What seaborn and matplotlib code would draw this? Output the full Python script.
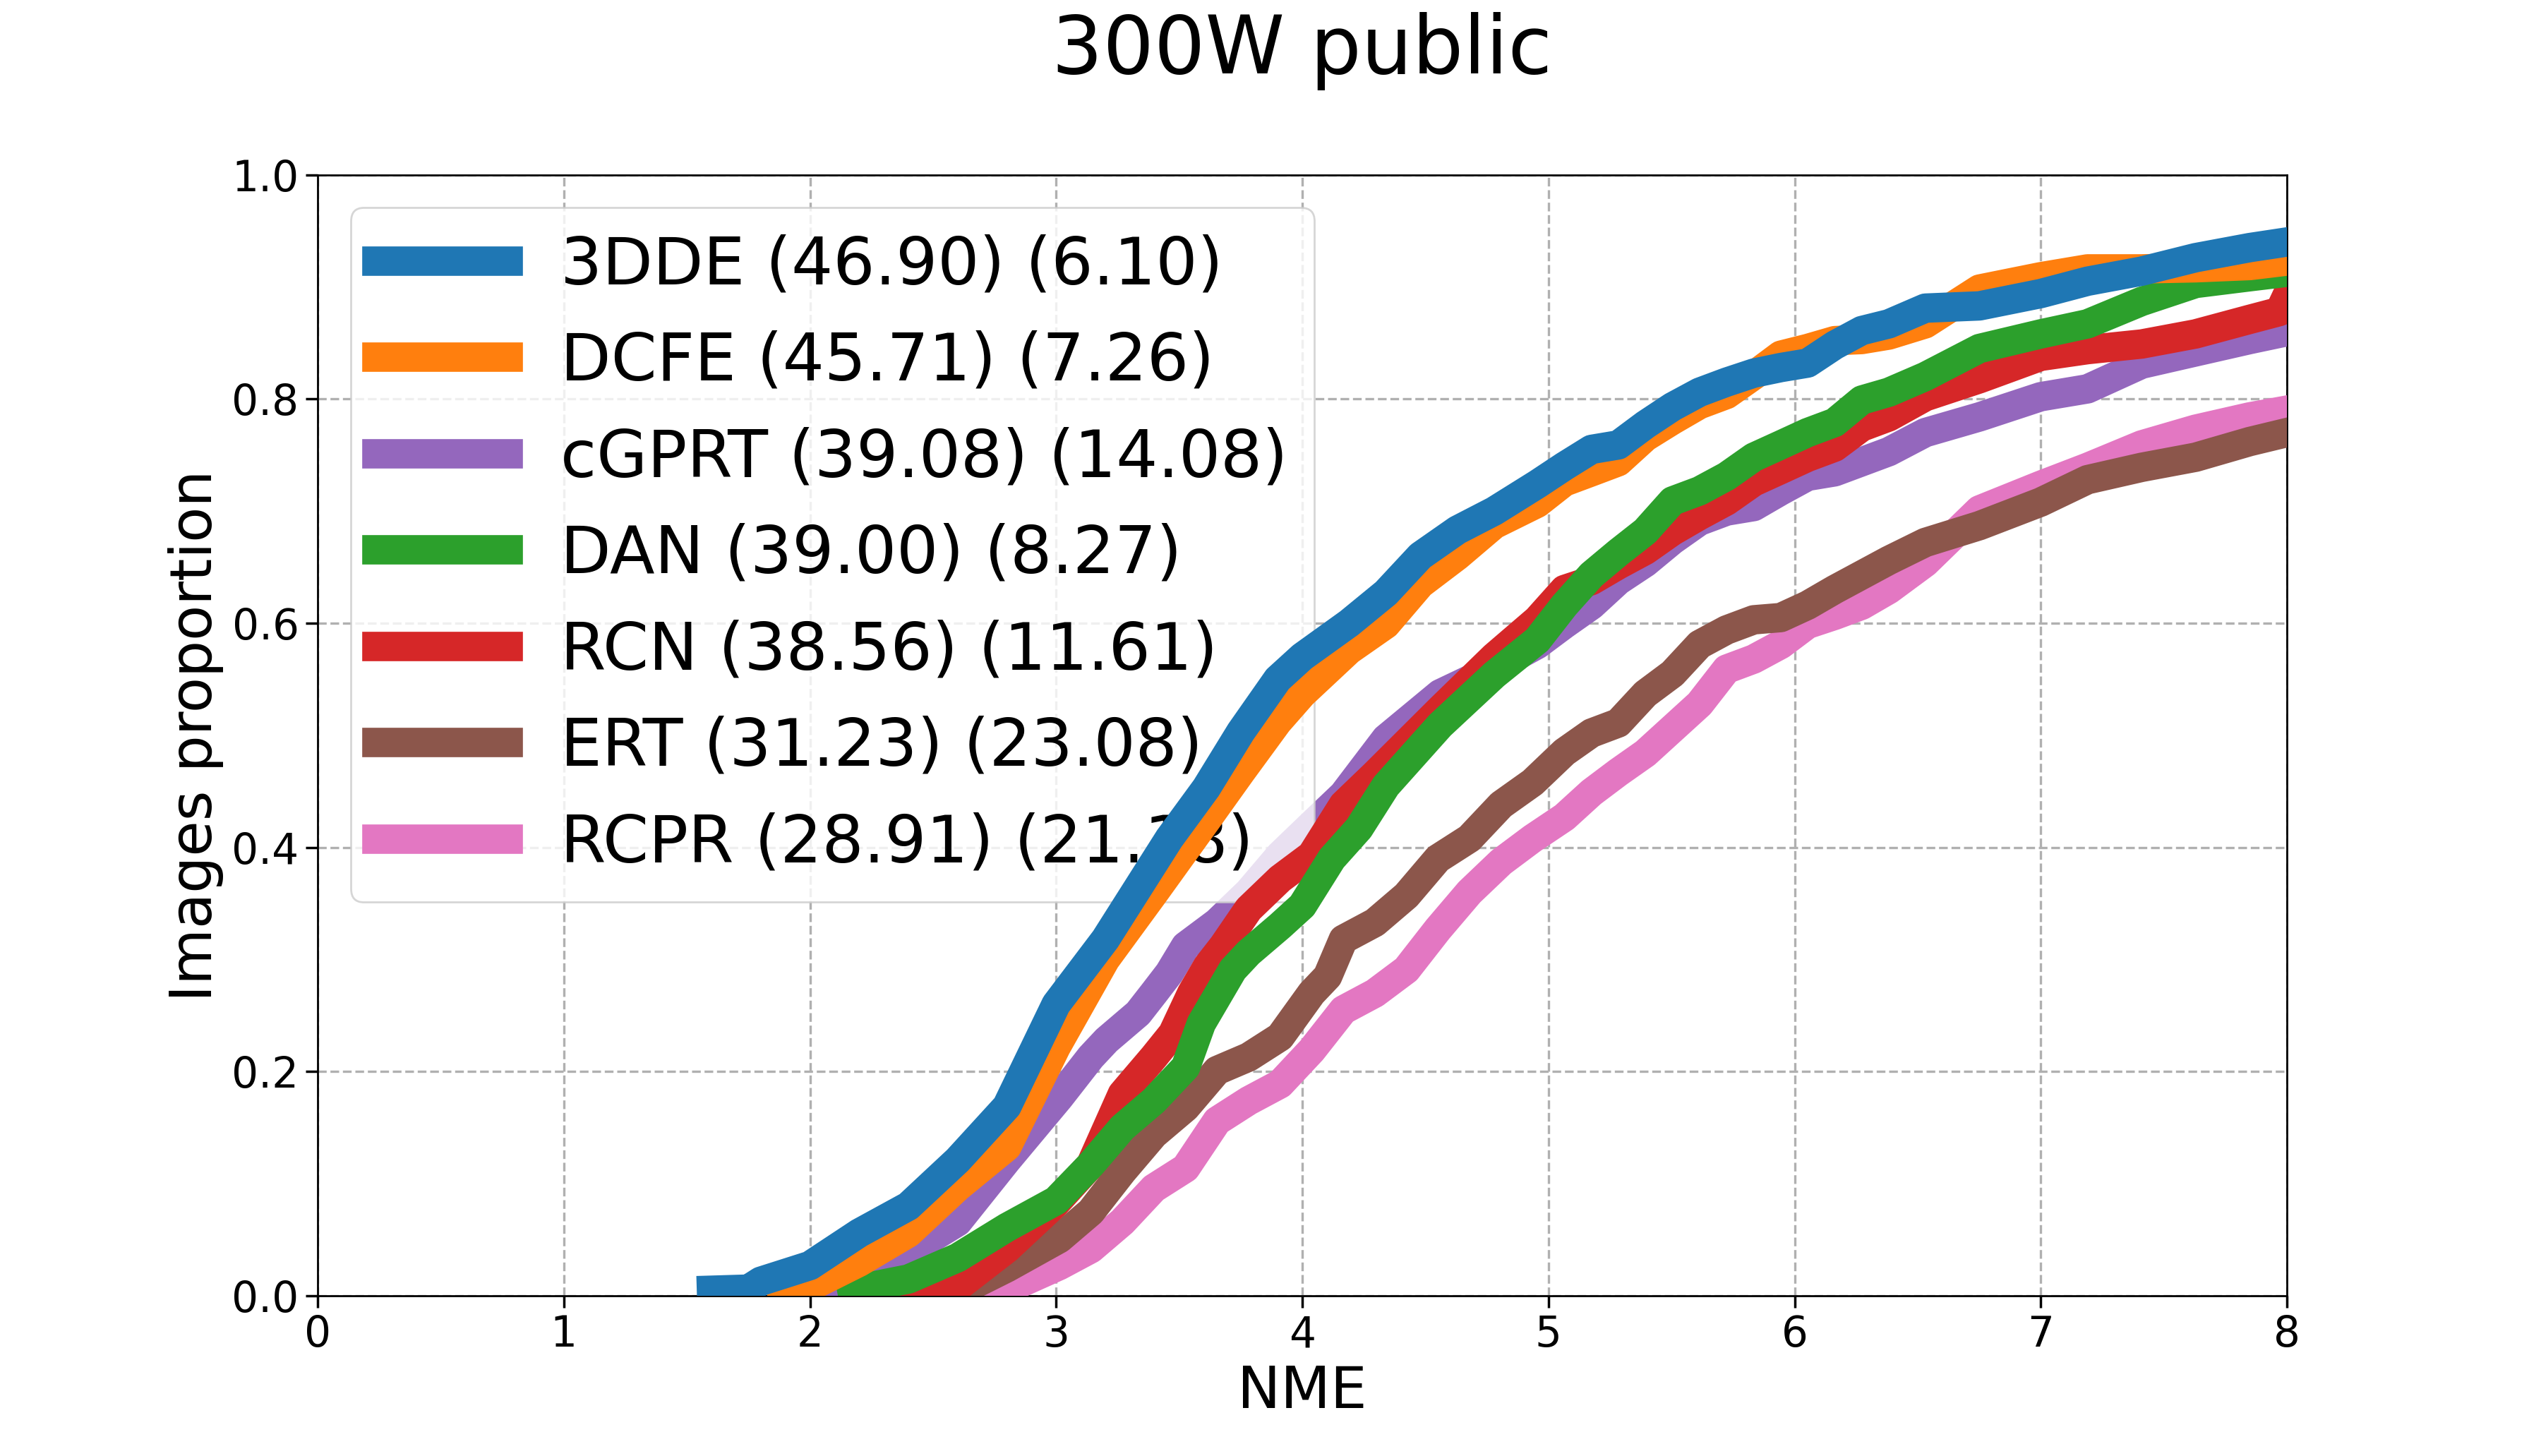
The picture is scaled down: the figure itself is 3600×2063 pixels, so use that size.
# CED curves, 300W public
import pandas as pd
import matplotlib
import matplotlib.pyplot as plt
import seaborn as sns

sns.set_theme(style='ticks', rc={'lines.solid_capstyle': 'projecting',
                                 'text.color': 'black', 'axes.labelcolor': 'black',
                                 'xtick.color': 'black', 'ytick.color': 'black'})
matplotlib.rcParams['font.family'] = ['DejaVu Sans']

# ---- data ----
nme_3dde = [1.60, 1.75, 1.8, 2.0, 2.2, 2.4, 2.6, 2.8, 3.0, 3.2, 3.46, 3.61, 3.75, 3.9, 4.0,
            4.19, 4.34, 4.48, 4.63, 4.78, 4.955, 5.065, 5.175, 5.284, 5.394, 5.504, 5.614,
            5.724, 5.834, 5.944, 6.053, 6.163, 6.273, 6.383, 6.531, 6.751, 7.0, 7.19, 7.41,
            7.629, 7.849, 8.0]
prop_3dde = [0.005, 0.006, 0.013, 0.027, 0.056, 0.08, 0.121, 0.169, 0.26, 0.318, 0.408, 0.453,
             0.503, 0.55, 0.57, 0.60, 0.627, 0.66, 0.683, 0.70, 0.724, 0.74, 0.755, 0.759, 0.777,
             0.793, 0.806, 0.815, 0.823, 0.828, 0.832, 0.848, 0.861, 0.867, 0.881, 0.883, 0.894,
             0.905, 0.914, 0.926, 0.935, 0.94]

nme_dcfe = [1.89, 2.0, 2.2, 2.4, 2.6, 2.8, 3.0, 3.2, 3.4, 3.61, 3.75, 3.9, 4.0, 4.19, 4.34, 4.48,
            4.63, 4.78, 4.955, 5.065, 5.175, 5.284, 5.394, 5.504, 5.614, 5.724, 5.834, 5.944,
            6.053, 6.163, 6.273, 6.383, 6.531, 6.751, 7.0, 7.19, 7.41, 7.629, 7.849, 8.0]
prop_dcfe = [0.0, 0.008, 0.03, 0.056, 0.097, 0.133, 0.222, 0.30, 0.36, 0.424, 0.467, 0.512, 0.537,
             0.576, 0.599, 0.635, 0.66, 0.688, 0.707, 0.726, 0.735, 0.744, 0.766, 0.781, 0.795,
             0.804, 0.821, 0.839, 0.845, 0.852, 0.853, 0.857, 0.867, 0.898, 0.909, 0.916, 0.916,
             0.917, 0.919, 0.923]

nme_cgprt = [2.02, 2.2, 2.4, 2.6, 2.8, 3.013, 3.141, 3.205, 3.333, 3.397, 3.46, 3.526, 3.654,
             3.782, 3.91, 4.038, 4.167, 4.34, 4.56, 4.78, 4.955, 5.065, 5.175, 5.284, 5.394,
             5.504, 5.614, 5.724, 5.834, 5.944, 6.053, 6.163, 6.273, 6.383, 6.531, 6.751, 7.0,
             7.19, 7.41, 7.629, 7.849, 8.0]
prop_cgprt = [0.0, 0.013, 0.039, 0.066, 0.121, 0.177, 0.213, 0.228, 0.252, 0.27, 0.288, 0.312,
              0.333, 0.36, 0.393, 0.42, 0.447, 0.497, 0.537, 0.56, 0.581, 0.599, 0.616, 0.638,
              0.654, 0.674, 0.691, 0.70, 0.704, 0.718, 0.731, 0.735, 0.744, 0.753, 0.77, 0.784,
              0.802, 0.809, 0.831, 0.842, 0.853, 0.86]

nme_dan = [2.17, 2.4, 2.6, 2.8, 3.0, 3.141, 3.269, 3.397, 3.526, 3.59, 3.654, 3.718, 3.782, 3.91,
           4.0, 4.12, 4.23, 4.34, 4.56, 4.78, 4.955, 5.065, 5.175, 5.284, 5.394, 5.504, 5.614,
           5.724, 5.834, 5.944, 6.053, 6.163, 6.273, 6.383, 6.531, 6.751, 7.0, 7.19, 7.41, 7.629,
           7.849, 8.0]
prop_dan = [0.005, 0.015, 0.034, 0.061, 0.085, 0.117, 0.150, 0.174, 0.204, 0.243, 0.267, 0.291,
            0.306, 0.33, 0.348, 0.39, 0.417, 0.455, 0.509, 0.554, 0.585, 0.616, 0.643, 0.663,
            0.682, 0.709, 0.718, 0.731, 0.748, 0.759, 0.77, 0.779, 0.799, 0.806, 0.82, 0.845,
            0.858, 0.867, 0.887, 0.903, 0.909, 0.913]

nme_rcn = [2.37, 2.6, 2.8, 3.0, 3.141, 3.269, 3.397, 3.474, 3.551, 3.615, 3.679, 3.782, 3.91,
           4.038, 4.167, 4.295, 4.56, 4.78, 4.955, 5.065, 5.175, 5.284, 5.394, 5.504, 5.614,
           5.724, 5.834, 5.944, 6.053, 6.163, 6.273, 6.383, 6.531, 6.751, 7.0, 7.19, 7.41, 7.629,
           7.849, 7.97, 8.0]
prop_rcn = [0.0, 0.008, 0.042, 0.083, 0.117, 0.18, 0.213, 0.234, 0.27, 0.294, 0.312, 0.345, 0.372,
            0.393, 0.438, 0.465, 0.523, 0.57, 0.603, 0.63, 0.638, 0.652, 0.665, 0.682, 0.696,
            0.709, 0.726, 0.737, 0.748, 0.757, 0.775, 0.784, 0.802, 0.818, 0.838, 0.844, 0.849,
            0.858, 0.871, 0.878, 0.892]

nme_ert = [2.5, 2.6, 2.8, 3.013, 3.141, 3.269, 3.397, 3.526, 3.654, 3.782, 3.91, 4.038, 4.103,
           4.167, 4.295, 4.423, 4.551, 4.679, 4.808, 4.936, 5.065, 5.175, 5.284, 5.394, 5.504,
           5.614, 5.724, 5.834, 5.944, 6.053, 6.163, 6.273, 6.383, 6.531, 6.751, 7.0, 7.19, 7.41,
           7.629, 7.849, 8.0]
prop_ert = [0.0, 0.003, 0.025, 0.051, 0.075, 0.111, 0.144, 0.168, 0.201, 0.213, 0.231, 0.27,
            0.285, 0.318, 0.333, 0.357, 0.39, 0.408, 0.438, 0.458, 0.485, 0.502, 0.511, 0.537,
            0.555, 0.581, 0.594, 0.603, 0.605, 0.616, 0.63, 0.643, 0.656, 0.672, 0.687, 0.708,
            0.728, 0.739, 0.748, 0.762, 0.77]

nme_rcpr = [2.61, 2.8, 3.013, 3.141, 3.269, 3.397, 3.526, 3.654, 3.782, 3.91, 4.038, 4.167,
            4.295, 4.423, 4.551, 4.679, 4.808, 4.936, 5.065, 5.175, 5.284, 5.394, 5.504, 5.614,
            5.724, 5.834, 5.944, 6.053, 6.163, 6.273, 6.383, 6.531, 6.751, 7.0, 7.19, 7.41,
            7.629, 7.849, 8.0]
prop_rcpr = [0.0, 0.006, 0.027, 0.042, 0.066, 0.096, 0.114, 0.156, 0.174, 0.189, 0.219, 0.255,
             0.27, 0.291, 0.327, 0.36, 0.387, 0.408, 0.427, 0.449, 0.467, 0.484, 0.506, 0.528,
             0.559, 0.568, 0.581, 0.599, 0.607, 0.616, 0.63, 0.654, 0.701, 0.723, 0.739, 0.759,
             0.773, 0.784, 0.79]

labels = ['3DDE (46.90) (6.10)', 'DCFE (45.71) (7.26)', 'cGPRT (39.08) (14.08)',
          'DAN (39.00) (8.27)', 'RCN (38.56) (11.61)', 'ERT (31.23) (23.08)',
          'RCPR (28.91) (21.18)']
colors = ['#1f77b4', '#ff7f0e', '#9467bd', '#2ca02c', '#d62728', '#8c564b', '#e377c2']
series = [(nme_3dde, prop_3dde), (nme_dcfe, prop_dcfe), (nme_cgprt, prop_cgprt),
          (nme_dan, prop_dan), (nme_rcn, prop_rcn), (nme_ert, prop_ert), (nme_rcpr, prop_rcpr)]
# later entries drawn below earlier ones
zorders = [9, 8, 5, 7, 6, 4, 3]

fig, ax = plt.subplots(figsize=(18, 10.315))

for (x, y), lab, col, z in zip(series, labels, colors, zorders):
    df = pd.DataFrame({'NME': x, 'prop': y})
    sns.lineplot(data=df, x='NME', y='prop', color=col, linewidth=15, sort=False,
                 estimator=None, ax=ax, zorder=z, label=lab)

h, l = ax.get_legend_handles_labels()
ax.legend(h, l, loc='upper left', fontsize=33.5)

ax.set_xlim(0, 8)
ax.set_ylim(0, 1)
ax.set_xlabel('NME', fontsize=29.5)
ax.set_ylabel('Images proportion', fontsize=29.5)
ax.tick_params(labelsize=21.5, length=6, colors='black')
ax.grid(True, linestyle='--', color='#b0b0b0', linewidth=1.2)
for s in ax.spines.values():
    s.set_color('black')
    s.set_linewidth(1.0)

fig.suptitle('300W public', fontsize=41, x=0.5125, y=0.992, color='black')
fig.savefig('out.png', dpi=200)
